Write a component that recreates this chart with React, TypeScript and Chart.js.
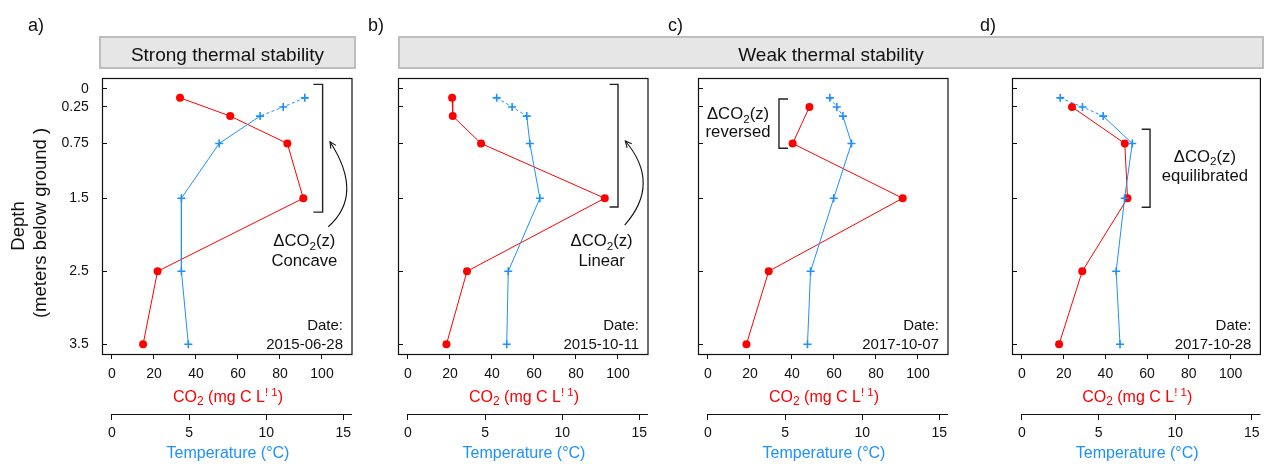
import { useEffect, useRef } from "react";
import { Chart, registerables } from "chart.js";

Chart.register(...registerables);

const FONT = '"Liberation Sans", Arial, Helvetica, sans-serif';
const RED = "#ff0000";
const BLUE = "#1e90ff";
const INK = "#111111";

// ---- data ----
const depthTemp = [0.125, 0.25, 0.375, 0.75, 1.5, 2.5, 3.5];
const depthCO2Early = [0.125, 0.375, 0.75, 1.5, 2.5, 3.5];
const depthCO2Late = [0.25, 0.75, 1.5, 2.5, 3.5];

const co2A = [32.4, 56.3, 83.5, 91.1, 21.7, 14.8];
const tempA = [12.5, 11.1, 9.6, 6.95, 4.5, 4.5, 4.95];
const co2B = [21.0, 21.3, 34.8, 93.7, 28.1, 18.3];
const tempB = [5.75, 6.75, 7.7, 7.9, 8.55, 6.5, 6.4];
const co2C = [48.3, 40.3, 92.7, 28.9, 18.3];
const tempC = [7.9, 8.35, 8.75, 9.3, 8.15, 6.65, 6.45];
const co2D = [24.0, 49.3, 50.6, 28.9, 17.8];
const tempD = [2.5, 3.95, 5.3, 7.2, 6.7, 6.15, 6.4];

const depthTicks = [0, 0.25, 0.75, 1.5, 2.5, 3.5];
const depthTickLabels = ["0", "0.25", "0.75", "1.5", "2.5", "3.5"];
const co2Ticks = [0, 20, 40, 60, 80, 100];
const tempTicks = [0, 5, 10, 15];

const dates = ["2015-06-28", "2015-10-11", "2017-10-07", "2017-10-28"];
const panelLabels = ["a)", "b)", "c)", "d)"];
const shapeWords = ["Concave", "Linear", "reversed", "equilibrated"];
const groupTitles = ["Strong thermal stability", "Weak thermal stability"];

// ---- layout ----
const W = 1266;
const H = 464;
const BOX_LEFT = [102, 398, 698, 1012];
const BOX_W = 250;
const BOX_TOP = 79;
const Y_AXIS_W = 50;
const CO2_AXIS_H = 60;
const TEMP_AXIS_H = 50;
const LABEL_X = [28, 368, 668, 980];
const DEPTH_RANGE = [-0.133, 3.633];
const CO2_RANGE = [-4.76, 114.29];
const TEMP_RANGE = [-0.648, 15.56];

type Annot = {
  bracket: { x: number; tip: number; y0: number; y1: number };
  arrow?: { tail: number[]; bulge: number[]; head: number[] };
  text: { x: number; y1: number; y2: number };
};

// annotation geometry in data units (x: CO2 scale, y: depth)
const annots: Annot[] = [
  {
    bracket: { x: 100.3, tip: 95.9, y0: -0.06, y1: 1.69 },
    arrow: { tail: [103.0, 1.89], bulge: [111.8, 1.38], head: [103.8, 0.726] },
    text: { x: 91.6, y1: 2.16, y2: 2.43 },
  },
  {
    bracket: { x: 100.0, tip: 96.0, y0: -0.06, y1: 1.62 },
    arrow: { tail: [103.2, 1.867], bulge: [112.0, 1.296], head: [103.5, 0.716] },
    text: { x: 92.2, y1: 2.16, y2: 2.43 },
  },
  {
    bracket: { x: 33.8, tip: 38.1, y0: 0.14, y1: 0.816 },
    text: { x: 14.3, y1: 0.42, y2: 0.66 },
  },
  {
    bracket: { x: 61.4, tip: 57.4, y0: 0.556, y1: 1.624 },
    text: { x: 87.7, y1: 1.0, y2: 1.27 },
  },
];

const panels = [
  { co2: co2A, co2Depth: depthCO2Early, temp: tempA },
  { co2: co2B, co2Depth: depthCO2Early, temp: tempB },
  { co2: co2C, co2Depth: depthCO2Late, temp: tempC },
  { co2: co2D, co2Depth: depthCO2Late, temp: tempD },
];

type Part = { t: string; size: number; dy?: number };

function drawRich(ctx: CanvasRenderingContext2D, parts: Part[], cx: number, baseline: number, color: string) {
  let w = 0;
  for (const p of parts) {
    ctx.font = `${p.size}px ${FONT}`;
    w += ctx.measureText(p.t).width;
  }
  let x = cx - w / 2;
  ctx.fillStyle = color;
  ctx.textAlign = "left";
  ctx.textBaseline = "alphabetic";
  for (const p of parts) {
    ctx.font = `${p.size}px ${FONT}`;
    ctx.fillText(p.t, x, baseline + (p.dy || 0));
    x += ctx.measureText(p.t).width;
  }
}

function deltaCO2(size: number): Part[] {
  return [
    { t: "\u0394CO", size },
    { t: "2", size: size * 0.7, dy: size * 0.2 },
    { t: "(z)", size },
  ];
}

function makeDecor(idx: number) {
  return {
    id: "decor" + idx,
    afterDraw(chart: any) {
      const ctx: CanvasRenderingContext2D = chart.ctx;
      const { left, right, top, bottom } = chart.chartArea;
      const xc = chart.scales.xc;
      const xt = chart.scales.xt;
      const ys = chart.scales.y;
      ctx.save();

      // plot box
      ctx.strokeStyle = INK;
      ctx.lineWidth = 1.2;
      ctx.strokeRect(left + 0.5, top - 0.5, right - left - 0.5, bottom - top + 1);

      // temperature axis line
      ctx.beginPath();
      ctx.lineWidth = 1;
      ctx.moveTo(xt.getPixelForValue(0), xt.top + 0.5);
      ctx.lineTo(right, xt.top + 0.5);
      ctx.stroke();

      const cx = (left + right) / 2 + 1;
      // axis titles
      drawRich(
        ctx,
        [
          { t: "CO", size: 16 },
          { t: "2", size: 12, dy: 2.5 },
          { t: " (mg C L", size: 16 },
          { t: "! 1", size: 11.5, dy: -6.5 },
          { t: ")", size: 16 },
        ],
        cx,
        402,
        RED
      );
      drawRich(ctx, [{ t: "Temperature (\u00B0C)", size: 16 }], cx, 458, BLUE);

      // date
      ctx.fillStyle = INK;
      ctx.font = `15px ${FONT}`;
      ctx.textAlign = "right";
      ctx.textBaseline = "alphabetic";
      ctx.fillText("Date:", right - 9, bottom - 24);
      ctx.fillText(dates[idx], right - 9, bottom - 5.5);

      // panel label
      ctx.font = `18px ${FONT}`;
      ctx.textAlign = "left";
      ctx.fillText(panelLabels[idx], LABEL_X[idx], 31);

      // annotation bracket
      const a = annots[idx];
      const bx = xc.getPixelForValue(a.bracket.x);
      const btip = xc.getPixelForValue(a.bracket.tip);
      const by0 = ys.getPixelForValue(a.bracket.y0);
      const by1 = ys.getPixelForValue(a.bracket.y1);
      ctx.strokeStyle = "#222";
      ctx.lineWidth = 1.4;
      ctx.beginPath();
      ctx.moveTo(btip, by0);
      ctx.lineTo(bx, by0);
      ctx.lineTo(bx, by1);
      ctx.lineTo(btip, by1);
      ctx.stroke();

      // arrow
      if (a.arrow) {
        const p0 = [xc.getPixelForValue(a.arrow.tail[0]), ys.getPixelForValue(a.arrow.tail[1])];
        const pm = [xc.getPixelForValue(a.arrow.bulge[0]), ys.getPixelForValue(a.arrow.bulge[1])];
        const p2 = [xc.getPixelForValue(a.arrow.head[0]), ys.getPixelForValue(a.arrow.head[1])];
        const cp = [2 * pm[0] - 0.5 * (p0[0] + p2[0]), 2 * pm[1] - 0.5 * (p0[1] + p2[1])];
        ctx.strokeStyle = INK;
        ctx.lineWidth = 1.1;
        ctx.beginPath();
        ctx.moveTo(p0[0], p0[1]);
        ctx.quadraticCurveTo(cp[0], cp[1], p2[0], p2[1]);
        ctx.stroke();
        const ang = Math.atan2(p2[1] - cp[1], p2[0] - cp[0]);
        const hl = 7;
        ctx.beginPath();
        ctx.moveTo(p2[0] - hl * Math.cos(ang - 0.45), p2[1] - hl * Math.sin(ang - 0.45));
        ctx.lineTo(p2[0], p2[1]);
        ctx.lineTo(p2[0] - hl * Math.cos(ang + 0.45), p2[1] - hl * Math.sin(ang + 0.45));
        ctx.stroke();
      }

      // annotation text
      const tx = xc.getPixelForValue(a.text.x);
      drawRich(ctx, deltaCO2(16.7), tx, ys.getPixelForValue(a.text.y1), INK);
      drawRich(ctx, [{ t: shapeWords[idx], size: 16.7 }], tx, ys.getPixelForValue(a.text.y2), INK);

      // group headers and y title
      const drawHeader = (x0: number, x1: number, title: string) => {
        ctx.fillStyle = "#e6e6e6";
        ctx.fillRect(x0, 37, x1 - x0, 31);
        ctx.strokeStyle = "#bdbdbd";
        ctx.lineWidth = 2;
        ctx.strokeRect(x0, 37, x1 - x0, 31);
        ctx.fillStyle = INK;
        ctx.font = `19px ${FONT}`;
        ctx.textAlign = "center";
        ctx.textBaseline = "alphabetic";
        ctx.fillText(title, (x0 + x1) / 2, 61);
      };
      if (idx === 0) {
        drawHeader(100, 355, groupTitles[0]);
        ctx.fillStyle = INK;
        ctx.font = `18.5px ${FONT}`;
        ctx.textAlign = "center";
        ctx.textBaseline = "middle";
        ctx.save();
        ctx.translate(18.5, 226);
        ctx.rotate(-Math.PI / 2);
        ctx.fillText("Depth", 0, 0);
        ctx.restore();
        ctx.save();
        ctx.translate(40.5, 223);
        ctx.rotate(-Math.PI / 2);
        ctx.fillText("(meters below ground )", 0, 0);
        ctx.restore();
      }
      if (idx === 1) {
        drawHeader(399, 1263, groupTitles[1]);
      }
      ctx.restore();
    },
  };
}

function PanelChart({ idx }: { idx: number }) {
  const ref = useRef<HTMLCanvasElement>(null);
  useEffect(() => {
    const canvas = ref.current;
    if (!canvas) return;
    const p = panels[idx];
    const L = BOX_LEFT[idx];
    const zeroPad = (s: any) => {
      s.paddingLeft = 0;
      s.paddingRight = 0;
      s.paddingTop = 0;
      s.paddingBottom = 0;
    };
    const chart = new Chart(canvas, {
      type: "scatter",
      data: {
        datasets: [
          {
            label: "Temperature",
            xAxisID: "xt",
            yAxisID: "y",
            data: p.temp.map((v, i) => ({ x: v, y: depthTemp[i] })),
            showLine: true,
            borderColor: BLUE,
            borderWidth: 1,
            pointStyle: "cross",
            pointRadius: 4,
            pointBorderWidth: 1.6,
            pointBorderColor: BLUE,
            pointBackgroundColor: BLUE,
            segment: {
              borderDash: (c: any) => (c.p1DataIndex <= 2 ? [3, 2.5] : undefined),
            },
          } as any,
          {
            label: "CO2",
            xAxisID: "xc",
            yAxisID: "y",
            data: p.co2.map((v, i) => ({ x: v, y: p.co2Depth[i] })),
            showLine: true,
            borderColor: RED,
            borderWidth: 1,
            pointStyle: "circle",
            pointRadius: 4,
            pointBorderWidth: 0,
            pointBackgroundColor: RED,
            pointBorderColor: RED,
          } as any,
        ],
      },
      options: {
        responsive: false,
        animation: false,
        events: [],
        layout: { padding: { left: L - Y_AXIS_W, right: W - (L + BOX_W), top: BOX_TOP, bottom: 0 } },
        plugins: { legend: { display: false }, tooltip: { enabled: false } },
        scales: {
          y: {
            type: "linear",
            position: "left",
            reverse: true,
            min: DEPTH_RANGE[0],
            max: DEPTH_RANGE[1],
            afterBuildTicks: (s: any) => {
              s.ticks = depthTicks.map((v) => ({ value: v }));
            },
            afterFit: (s: any) => {
              s.width = Y_AXIS_W;
              zeroPad(s);
            },
            border: { display: false },
            grid: { drawOnChartArea: false, tickLength: -5, color: INK, tickColor: INK, lineWidth: 1 },
            ticks: {
              display: idx === 0,
              padding: 18.3,
              color: INK,
              font: { family: FONT, size: 14 },
              callback: (_v: any, i: number) => depthTickLabels[i],
            },
          },
          xc: {
            type: "linear",
            position: "bottom",
            weight: 1,
            min: CO2_RANGE[0],
            max: CO2_RANGE[1],
            afterBuildTicks: (s: any) => {
              s.ticks = co2Ticks.map((v) => ({ value: v }));
            },
            afterFit: (s: any) => {
              s.height = CO2_AXIS_H;
              zeroPad(s);
            },
            border: { display: false },
            grid: { drawOnChartArea: false, tickLength: 5, color: INK, tickColor: INK, lineWidth: 1 },
            ticks: {
              padding: 7,
              maxRotation: 0,
              autoSkip: false,
              color: INK,
              font: { family: FONT, size: 14 },
              callback: (v: any) => String(v),
            },
          },
          xt: {
            type: "linear",
            position: "bottom",
            weight: 2,
            min: TEMP_RANGE[0],
            max: TEMP_RANGE[1],
            afterBuildTicks: (s: any) => {
              s.ticks = tempTicks.map((v) => ({ value: v }));
            },
            afterFit: (s: any) => {
              s.height = TEMP_AXIS_H;
              zeroPad(s);
            },
            border: { display: false },
            grid: { drawOnChartArea: false, tickLength: 6, color: INK, tickColor: INK, lineWidth: 1 },
            ticks: {
              padding: 5,
              maxRotation: 0,
              autoSkip: false,
              color: INK,
              font: { family: FONT, size: 14 },
              callback: (v: any) => String(v),
            },
          },
        },
      } as any,
      plugins: [makeDecor(idx)],
    });
    return () => chart.destroy();
  }, [idx]);
  return (
    <canvas
      ref={ref}
      width={W}
      height={H}
      style={{ position: "absolute", left: 0, top: 0, width: W, height: H }}
    />
  );
}

export default function App() {
  return (
    <div style={{ position: "fixed", left: 0, top: 0, width: W, height: H, background: "#ffffff" }}>
      {[0, 1, 2, 3].map((i) => (
        <PanelChart key={i} idx={i} />
      ))}
    </div>
  );
}
